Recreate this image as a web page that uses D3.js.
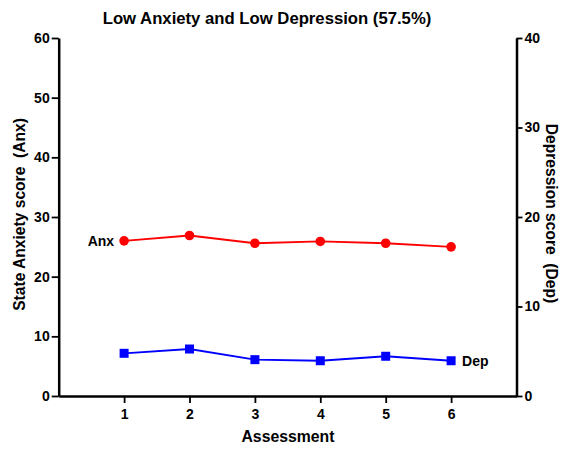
<!DOCTYPE html>
<html><head><meta charset="utf-8">
<script src="https://cdn.jsdelivr.net/npm/d3@7"></script>
<style>body{margin:0;background:#fff}svg{display:block}text{font-family:"Liberation Sans",Arial,sans-serif;font-weight:bold}</style>
</head><body>
<script>
const assessments = [1, 2, 3, 4, 5, 6];
const anxValues = [26.0, 26.9, 25.6, 25.9, 25.6, 25.0];
const depValues = [4.77, 5.25, 4.06, 3.94, 4.44, 3.94];
const leftTicks = [0, 10, 20, 30, 40, 50, 60];
const rightTicks = [0, 10, 20, 30, 40];
const title = "Low Anxiety and Low Depression (57.5%)";

const W = 562, H = 449;
const svg = d3.select("body").append("svg").attr("width", W).attr("height", H);
const x = d3.scaleLinear().domain([0, 7]).range([58.7, 516.5]);
const yL = d3.scaleLinear().domain([0, 60]).range([396, 38]);
const yR = d3.scaleLinear().domain([0, 40]).range([396, 38]);

function styleAxis(g){
  g.selectAll("path").attr("stroke","#000").attr("stroke-width",2.5);
  g.selectAll("line").attr("stroke","#000").attr("stroke-width",1.8);
  g.selectAll("text").attr("font-size","14px").attr("fill","#000")
    .style("font-family","'Liberation Sans',Arial,sans-serif").style("font-weight","bold");
}
svg.append("g").attr("transform","translate(0,396)")
  .call(d3.axisBottom(x).tickValues(assessments).tickFormat(d3.format("d")).tickSize(7).tickSizeOuter(0).tickPadding(6))
  .call(styleAxis);
svg.append("g").attr("transform","translate(58.7,0)")
  .call(d3.axisLeft(yL).tickValues(leftTicks).tickSize(7).tickSizeOuter(0).tickPadding(2))
  .call(styleAxis);
svg.append("g").attr("transform","translate(516.5,0)")
  .call(d3.axisRight(yR).tickValues(rightTicks).tickSize(6).tickSizeOuter(0).tickPadding(2))
  .call(styleAxis);

const anxData = assessments.map((a,i)=>({a, v:anxValues[i]}));
const depData = assessments.map((a,i)=>({a, v:depValues[i]}));
svg.append("path").datum(anxData).attr("fill","none").attr("stroke","#ff0000").attr("stroke-width",1.8)
  .attr("d", d3.line().x(d=>x(d.a)).y(d=>yL(d.v)));
svg.selectAll("circle.anx").data(anxData).enter().append("circle")
  .attr("cx",d=>x(d.a)).attr("cy",d=>yL(d.v)).attr("r",4.8).attr("fill","#ff0000");
svg.append("path").datum(depData).attr("fill","none").attr("stroke","#0000ff").attr("stroke-width",1.8)
  .attr("d", d3.line().x(d=>x(d.a)).y(d=>yR(d.v)));
const sq = 9;
svg.selectAll("rect.dep").data(depData).enter().append("rect")
  .attr("x",d=>x(d.a)-sq/2).attr("y",d=>yR(d.v)-sq/2).attr("width",sq).attr("height",sq).attr("fill","#0000ff");

svg.append("text").attr("x", x(1)-10).attr("y", yL(anxValues[0])+5).attr("text-anchor","end")
  .attr("font-size","14px").text("Anx");
svg.append("text").attr("x", x(6)+11).attr("y", yR(depValues[5])+5).attr("text-anchor","start")
  .attr("font-size","14px").text("Dep");

svg.append("text").attr("x", 267).attr("y", 23.5).attr("text-anchor","middle").attr("font-size","16.7px").text(title);
svg.append("text").attr("x", 288).attr("y", 442).attr("text-anchor","middle").attr("font-size","15.8px").text("Assessment");
svg.append("text").attr("transform","translate(25,214.5) rotate(-90)").attr("text-anchor","middle").attr("font-size","15.6px")
  .attr("xml:space","preserve").style("white-space","pre").text("State Anxiety score  (Anx)");
svg.append("text").attr("transform","translate(546,213.5) rotate(90)").attr("text-anchor","middle").attr("font-size","15.6px")
  .style("white-space","pre").text("Depression score  (Dep)");
</script>
</body></html>
